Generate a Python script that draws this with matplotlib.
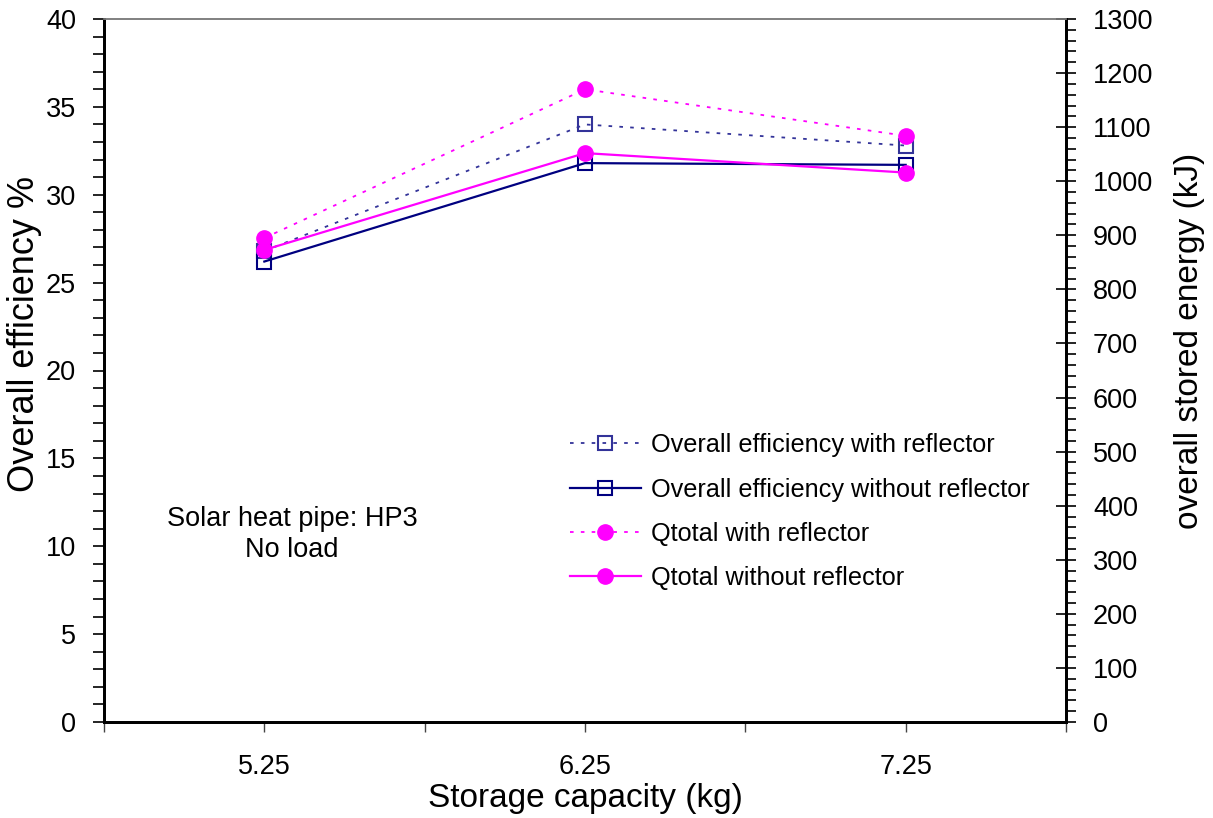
import numpy as np
import matplotlib
matplotlib.use("Agg")
import matplotlib.pyplot as plt
from matplotlib.ticker import MultipleLocator, FixedLocator, FixedFormatter

plt.rcParams["font.family"] = ["Liberation Sans", "DejaVu Sans"]

# storage capacity (kg)
capacity = [5.25, 6.25, 7.25]
# overall efficiency %
eff_with = [26.8, 34.0, 32.8]
eff_without = [26.2, 31.8, 31.7]
# overall stored energy (kJ)
q_with = [895, 1170, 1084]
q_without = [873, 1052, 1016]

x_ticks = [4.75, 5.25, 5.75, 6.25, 6.75, 7.25, 7.75]
x_labels = ["", "5.25", "", "6.25", "", "7.25", ""]

fig = plt.figure(figsize=(12.13, 8.18), dpi=100)
ax = fig.add_axes([104 / 1213, 1 - 722 / 818, (1066 - 104) / 1213, (722 - 19) / 818])
ax2 = ax.twinx()

ax.plot(capacity, eff_with, color="#333399", linestyle=(0, (2, 4)), linewidth=1.3,
        marker="s", markersize=10, markerfacecolor="none", markeredgecolor="#333399",
        markeredgewidth=1.5, label="Overall efficiency with reflector", zorder=3)
ax.plot(capacity, eff_without, color="#000080", linestyle="-", linewidth=1.6,
        marker="s", markersize=10, markerfacecolor="none", markeredgecolor="#000080",
        markeredgewidth=1.5, label="Overall efficiency without reflector", zorder=3)
ax2.plot(capacity, q_with, color="#FF00FF", linestyle=(0, (2, 4)), linewidth=1.3,
         marker="o", markersize=11, label="Qtotal with reflector", zorder=4)
ax2.plot(capacity, q_without, color="#FF00FF", linestyle="-", linewidth=1.6,
         marker="o", markersize=11, label="Qtotal without reflector", zorder=4)

ax.set_xlim(4.75, 7.75)
ax.set_ylim(0, 40)
ax2.set_ylim(0, 1300)

ax.xaxis.set_major_locator(FixedLocator(x_ticks))
ax.xaxis.set_major_formatter(FixedFormatter(x_labels))
ax.yaxis.set_major_locator(MultipleLocator(5))
ax.yaxis.set_minor_locator(MultipleLocator(1))
ax2.yaxis.set_major_locator(MultipleLocator(100))
ax2.yaxis.set_minor_locator(MultipleLocator(20))

ax.tick_params(axis="x", direction="out", length=7, width=1, colors="#444444",
               labelcolor="black", labelsize=19.5, pad=16)
ax.tick_params(axis="y", which="both", direction="out", length=8, width=1.2,
               labelsize=19.5, pad=12)
ax2.tick_params(axis="y", which="major", direction="inout", length=15, width=1.2,
                labelsize=19.5, pad=12)
ax2.tick_params(axis="y", which="minor", direction="out", length=7, width=1.2)

for a in (ax, ax2):
    a.spines["top"].set_color("#808080")
    a.spines["top"].set_linewidth(1.2)
    a.spines["left"].set_linewidth(2)
    a.spines["right"].set_linewidth(2)
    a.spines["bottom"].set_linewidth(2)

ax.set_xlabel("Storage capacity (kg)", fontsize=24, labelpad=2)
ax.set_ylabel("Overall efficiency %", fontsize=26)
ax.yaxis.set_label_coords(-0.064, 0.552)
ax2.set_ylabel("overall stored energy (kJ)", fontsize=24)
ax2.yaxis.set_label_coords(1.112, 0.542)

ax.text(5.336, 10.65, "Solar heat pipe: HP3\nNo load", ha="center", va="center",
        fontsize=19.5, linespacing=1.25)

h1, l1 = ax.get_legend_handles_labels()
h2, l2 = ax2.get_legend_handles_labels()
ax2.legend(h1 + h2, l1 + l2, loc="upper left", bbox_to_anchor=(0.474, 0.425),
           frameon=False, fontsize=18.2, handlelength=2.8, handletextpad=0.4,
           labelspacing=0.8, borderaxespad=0)

fig.savefig("out.png", dpi=100)
